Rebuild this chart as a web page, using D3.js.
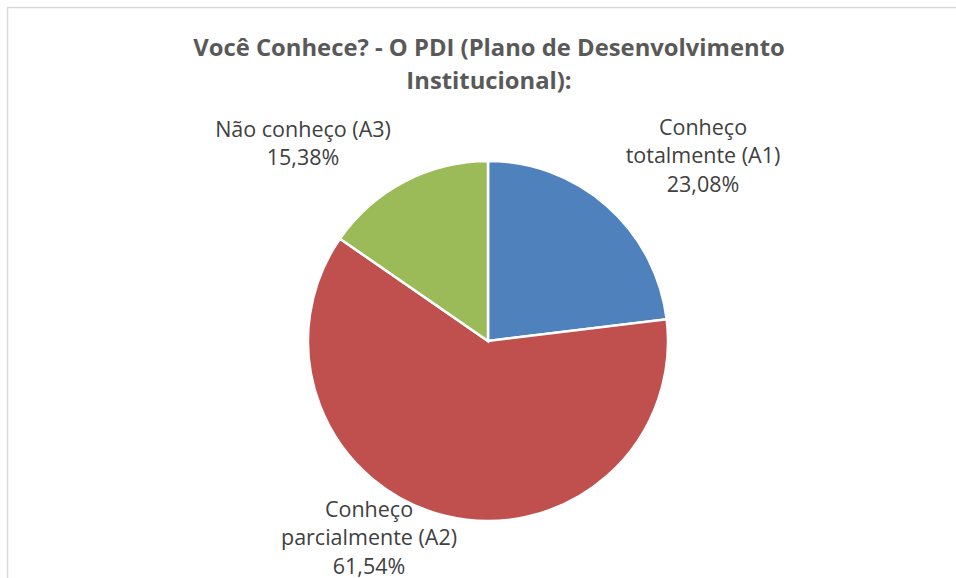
<!DOCTYPE html>
<html lang="pt">
<head>
<meta charset="UTF-8">
<title>Você Conhece? - O PDI</title>
<script src="https://cdn.jsdelivr.net/npm/d3@7"></script>
<style>
  body { margin: 0; background: #fff; }
  text { font-family: "Open Sans", Lato, sans-serif; }
</style>
</head>
<body>
<div id="chart"></div>
<script>
var categories = ["Conheço totalmente (A1)", "Conheço parcialmente (A2)", "Não conheço (A3)"];
var values = [23.08, 61.54, 15.38];
var labelLines = [["Conheço", "totalmente (A1)"], ["Conheço", "parcialmente (A2)"], ["Não conheço (A3)"]];
var colors = ["#4F81BD", "#C0504D", "#9BBB59"];

var width = 956, height = 578;
var cx = 488, cy = 341, radius = 180;
// label anchor offsets from pie centre (first line centre)
var labelOffset = [[215, -214], [-119, 168], [-185, -212]];

var svg = d3.select("#chart").append("svg")
    .attr("width", width)
    .attr("height", height);

svg.append("rect")
    .attr("x", 7.5).attr("y", 7.5)
    .attr("width", width).attr("height", height)
    .attr("fill", "#fff")
    .attr("stroke", "#d9d9d9")
    .attr("stroke-width", 1.5);

var title = svg.append("text")
    .attr("text-anchor", "middle")
    .attr("fill", "#595959")
    .style("font-weight", "bold")
    .style("font-size", "23.8px");
title.append("tspan").attr("x", 489).attr("y", 56).text("Você Conhece? - O PDI (Plano de Desenvolvimento");
title.append("tspan").attr("x", 489).attr("y", 89).text("Institucional):");

var pie = d3.pie().sort(null).value(function(d) { return d; });
var arc = d3.arc().innerRadius(0).outerRadius(radius);

var g = svg.append("g").attr("transform", "translate(" + cx + "," + cy + ")");

g.selectAll("path")
    .data(pie(values))
    .enter().append("path")
    .attr("d", arc)
    .attr("fill", function(d, i) { return colors[i]; })
    .attr("stroke", "#fff")
    .attr("stroke-width", 2.5);

var labels = g.selectAll("text.lbl")
    .data(pie(values))
    .enter().append("text")
    .attr("class", "lbl")
    .attr("text-anchor", "middle")
    .attr("fill", "#404040")
    .style("font-size", "21.5px");

labels.each(function(d, i) {
    var t = d3.select(this);
    var lines = labelLines[i].concat([d.data.toFixed(2).replace(".", ",") + "%"]);
    lines.forEach(function(s, j) {
        t.append("tspan")
            .attr("x", labelOffset[i][0])
            .attr("y", labelOffset[i][1] + j * 28.5 + 7.5)
            .text(s);
    });
});
</script>
</body>
</html>
